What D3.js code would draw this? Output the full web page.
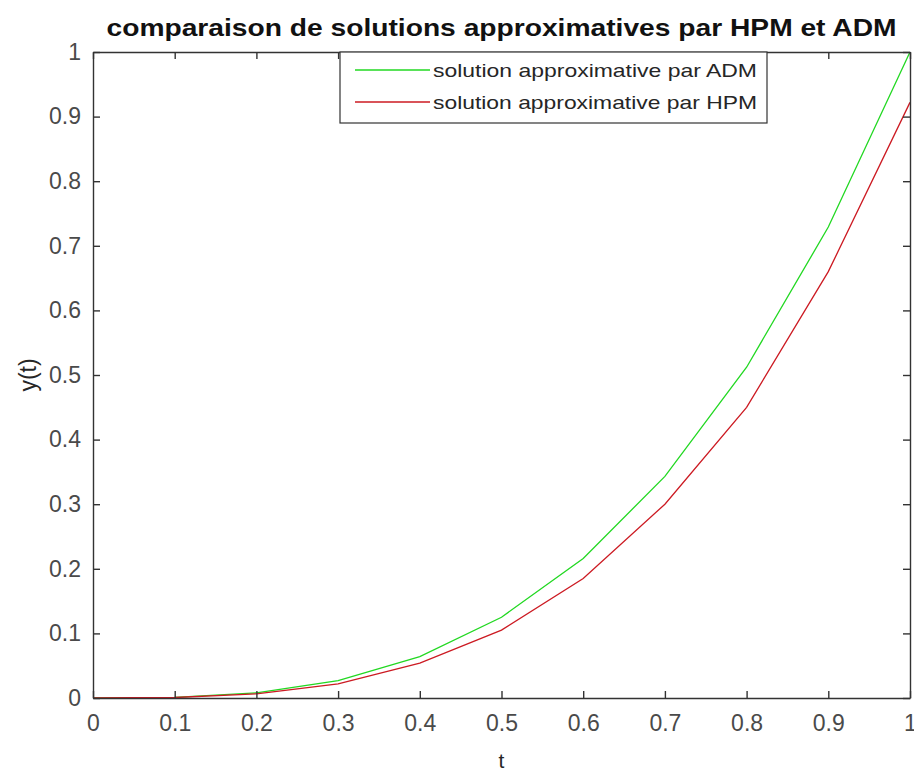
<!DOCTYPE html>
<html>
<head>
<meta charset="utf-8">
<script src="https://cdn.jsdelivr.net/npm/d3@7"></script>
<style>
  body { margin: 0; background: #fff; overflow: hidden; }
  text { font-family: "Liberation Sans", Arial, sans-serif; }
</style>
</head>
<body>
<script>
// data
var tValues = [0, 0.1, 0.2, 0.3, 0.4, 0.5, 0.6, 0.7, 0.8, 0.9, 1.0];
var admValues = [0, 0.001, 0.008, 0.027, 0.064, 0.125, 0.216, 0.343, 0.512, 0.729, 1.0];
var hpmValues = [0, 0.0008, 0.0065, 0.022, 0.054, 0.105, 0.185, 0.300, 0.450, 0.660, 0.922];
var xTicks = [0, 0.1, 0.2, 0.3, 0.4, 0.5, 0.6, 0.7, 0.8, 0.9, 1];
var yTicks = [0, 0.1, 0.2, 0.3, 0.4, 0.5, 0.6, 0.7, 0.8, 0.9, 1];
var seriesNames = ["solution approximative par ADM", "solution approximative par HPM"];
var seriesColors = ["#22d822", "#cc1a22"];
var chartTitle = "comparaison de solutions approximatives par HPM et ADM";

var W = 914, H = 771;
var padL = 93, padR = 910, padT = 52, padB = 698;
var axisColor = "#333";

var svg = d3.select("body").append("svg")
    .attr("width", W)
    .attr("height", H);

var x = d3.scaleLinear().domain([0, 1]).range([padL, padR]);
var y = d3.scaleLinear().domain([0, 1]).range([padB, padT]);

// lines
var line = d3.line()
    .x(function (d) { return x(d[0]); })
    .y(function (d) { return y(d[1]); });

[admValues, hpmValues].forEach(function (vals, k) {
  svg.append("path")
     .datum(tValues.map(function (t, i) { return [t, vals[i]]; }))
     .attr("fill", "none")
     .attr("stroke", seriesColors[k])
     .attr("stroke-width", 1.3)
     .attr("d", line);
});

// axes (MATLAB style: inward ticks, box on)
var tickFmt = function (d) { return d === 0 || d === 1 ? String(d) : d.toFixed(1); };

var xAxis = svg.append("g")
    .attr("transform", "translate(0," + padB + ")")
    .call(d3.axisBottom(x).tickValues(xTicks).tickSizeInner(-7).tickSizeOuter(0).tickPadding(17).tickFormat(tickFmt));
var yAxis = svg.append("g")
    .attr("transform", "translate(" + padL + ",0)")
    .call(d3.axisLeft(y).tickValues(yTicks).tickSizeInner(-7).tickSizeOuter(0).tickPadding(12).tickFormat(tickFmt));
var xTop = svg.append("g")
    .attr("transform", "translate(0," + padT + ")")
    .call(d3.axisTop(x).tickValues(xTicks).tickSizeInner(-7).tickSizeOuter(0).tickFormat(""));
var yRight = svg.append("g")
    .attr("transform", "translate(" + padR + ",0)")
    .call(d3.axisRight(y).tickValues(yTicks).tickSizeInner(-7).tickSizeOuter(0).tickFormat(""));

[xAxis, yAxis, xTop, yRight].forEach(function (g) {
  g.select(".domain").attr("stroke", axisColor).attr("stroke-width", 1.4);
  g.selectAll(".tick line").attr("stroke", axisColor).attr("stroke-width", 1.4);
  g.selectAll(".tick text")
   .attr("fill", "#4a4a4a")
   .style("font-size", "23px")
   .style("font-family", "'Liberation Sans', Arial, sans-serif");
});
xAxis.selectAll(".tick text").attr("dy", "0.71em");

// title
svg.append("text")
   .attr("x", (padL + padR) / 2)
   .attr("y", 36)
   .attr("text-anchor", "middle")
   .attr("font-weight", "bold")
   .attr("fill", "#111")
   .attr("textLength", 790)
   .attr("lengthAdjust", "spacingAndGlyphs")
   .style("font-size", "24px")
   .text(chartTitle);

// axis labels
svg.append("text")
   .attr("x", (padL + padR) / 2)
   .attr("y", 768)
   .attr("text-anchor", "middle")
   .attr("fill", "#262626")
   .style("font-size", "21px")
   .text("t");

svg.append("text")
   .attr("transform", "translate(36,375) rotate(-90)")
   .attr("text-anchor", "middle")
   .attr("fill", "#262626")
   .style("font-size", "23px")
   .text("y(t)");

// legend
var leg = svg.append("g");
leg.append("rect")
   .attr("x", 340).attr("y", padT)
   .attr("width", 427).attr("height", 71)
   .attr("fill", "#fff")
   .attr("stroke", axisColor)
   .attr("stroke-width", 1.2);

seriesNames.forEach(function (name, k) {
  var ly = 70 + k * 32;
  leg.append("line")
     .attr("x1", 355).attr("x2", 430)
     .attr("y1", ly).attr("y2", ly)
     .attr("stroke", seriesColors[k])
     .attr("stroke-width", 1.3);
  leg.append("text")
     .attr("x", 433).attr("y", ly)
     .attr("dy", "0.35em")
     .attr("fill", "#262626")
     .attr("textLength", 324)
     .attr("lengthAdjust", "spacingAndGlyphs")
     .style("font-size", "19px")
     .text(name);
});
</script>
</body>
</html>
